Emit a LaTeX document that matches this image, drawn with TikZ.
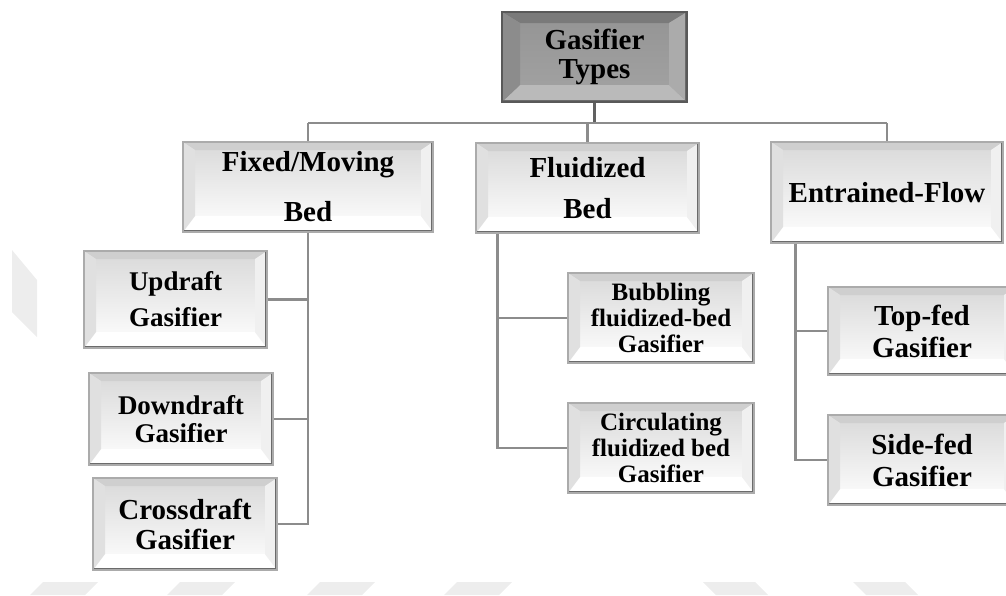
\documentclass[tikz,border=0pt]{standalone}
\usepackage{fontspec}
\setmainfont{Liberation Serif}

\tikzset{
    bevel x/.initial=6pt,
    bevel top/.initial=4pt,
    bevel bottom/.initial=8pt,
    gasbox/.style={draw=black!33, line width=0.6pt, align=center, inner sep=0pt,
        top color=black!15, bottom color=white,
        font=\bfseries\fontsize{14.5}{14.5}\selectfont,
        bevtop/.style={fill=black!19}, bevbot/.style={fill=white},
        bevleft/.style={fill=black!12}, bevright/.style={fill=black!6},
        path picture={
            \path (path picture bounding box.north west) coordinate (pnw)
                  (path picture bounding box.north east) coordinate (pne)
                  (path picture bounding box.south west) coordinate (psw)
                  (path picture bounding box.south east) coordinate (pse);
            \def\bx{\pgfkeysvalueof{/tikz/bevel x}}
            \def\bt{\pgfkeysvalueof{/tikz/bevel top}}
            \def\bb{\pgfkeysvalueof{/tikz/bevel bottom}}
            \fill[bevtop] (pnw) -- (pne) -- ([xshift=-\bx,yshift=-\bt]pne) -- ([xshift=\bx,yshift=-\bt]pnw) -- cycle;
            \fill[bevbot] (psw) -- (pse) -- ([xshift=-\bx,yshift=\bb]pse) -- ([xshift=\bx,yshift=\bb]psw) -- cycle;
            \fill[bevleft] (pnw) -- ([xshift=\bx,yshift=-\bt]pnw) -- ([xshift=\bx,yshift=\bb]psw) -- (psw) -- cycle;
            \fill[bevright] (pne) -- ([xshift=-\bx,yshift=-\bt]pne) -- ([xshift=-\bx,yshift=\bb]pse) -- (pse) -- cycle;
            \draw[black!58, line width=2.4pt] (pne) -- (pse) -- (psw);
        }},
    rootbox/.style={gasbox, draw=black!65, top color=black!42, bottom color=black!36,
        bevel x=9pt, bevel top=5.5pt, bevel bottom=8.5pt,
        bevtop/.style={fill=black!52}, bevbot/.style={fill=black!27},
        bevleft/.style={fill=black!45}, bevright/.style={fill=black!33}},
    smallbox/.style={gasbox, font=\bfseries\fontsize{12.5}{13}\selectfont},
    link/.style={draw=black!45, line width=1.2pt},
    wmark/.style={fill=black!7}
}

\begin{document}
\begin{tikzpicture}[x=0.5pt,y=-0.5pt]
    \useasboundingbox (0,0) rectangle (1006,595);
    \clip (0,0) rectangle (1006,595);

    % Watermark
    \fill[wmark] (12,250) -- (37,280) -- (37,337) -- (12,312) -- cycle;
    \foreach \x in {30,167,307,444}
        \fill[wmark] (\x+13,582) -- (\x+68,582) -- (\x+55,595) -- (\x,595) -- cycle;
    \foreach \x in {703,853}
        \fill[wmark] (\x,582) -- (\x+52,582) -- (\x+65,595) -- (\x+13,595) -- cycle;

    % Gasifier Types
    \node[rootbox, minimum width=92.5pt, minimum height=45pt] (root) at (594.5,57) {Gasifier\\Types};

    % Main classes
    \node[gasbox, minimum width=125pt, minimum height=45pt] (fixed) at (308,187) {Fixed/Moving\\[10.5pt]Bed};
    \node[gasbox, minimum width=111.5pt, minimum height=45pt] (fluid) at (587.5,188) {Fluidized\\[6pt]Bed};
    \node[gasbox, minimum width=116pt, minimum height=50.5pt] (entr) at (887,192.5) {Entrained-Flow};

    % Fixed/Moving bed gasifiers
    \node[gasbox, minimum width=91.5pt, minimum height=48.5pt, font=\bfseries\fontsize{13.5}{14}\selectfont] (up) at (175.5,299.5) {Updraft\\[4pt]Gasifier};
    \node[gasbox, minimum width=92pt, minimum height=46pt, font=\bfseries\fontsize{13.5}{14}\selectfont] (down) at (181,419) {Downdraft\\Gasifier};
    \node[gasbox, minimum width=92pt, minimum height=46pt] (cross) at (185,524) {Crossdraft\\[0.5pt]Gasifier};

    % Fluidized bed gasifiers
    \node[smallbox, minimum width=93pt, minimum height=45pt] (bub) at (661,318) {Bubbling\\fluidized-bed\\Gasifier};
    \node[smallbox, minimum width=93pt, minimum height=45pt] (circ) at (661,448) {Circulating\\fluidized bed\\Gasifier};

    % Entrained-flow gasifiers
    \node[gasbox, minimum width=94pt, minimum height=44pt] (topfed) at (922,331) {Top-fed\\[1.5pt]Gasifier};
    \node[gasbox, minimum width=94pt, minimum height=45pt] (sidefed) at (922,460) {Side-fed\\[1.5pt]Gasifier};

    % Connections
    \coordinate (busL) at (308,123);
    \coordinate (busR) at (887,123);
    \draw[link, draw=black!62, line width=1.6pt] (root.south) -- (root.south |- busL);
    \draw[link] (busL) -- (busR);
    \draw[link] (busL) -- (fixed.north);
    \draw[link] (fluid.north |- busL) -- (fluid.north);
    \draw[link] (busR) -- (entr.north);

    \draw[link] (fixed.south) -- (fixed.south |- cross.east) -- (cross.east);
    \draw[link] (up.east) -- (up.east -| fixed.south);
    \draw[link] (down.east) -- (down.east -| fixed.south);

    \coordinate (fluidtrunk) at ([xshift=11pt]fluid.south west);
    \draw[link] (fluidtrunk) -- (fluidtrunk |- circ.west) -- (circ.west);
    \draw[link] (bub.west) -- (bub.west -| fluidtrunk);

    \coordinate (entrtrunk) at ([xshift=12.5pt]entr.south west);
    \draw[link] (entrtrunk) -- (entrtrunk |- sidefed.west) -- (sidefed.west);
    \draw[link] (topfed.west) -- (topfed.west -| entrtrunk);
\end{tikzpicture}
\end{document}
